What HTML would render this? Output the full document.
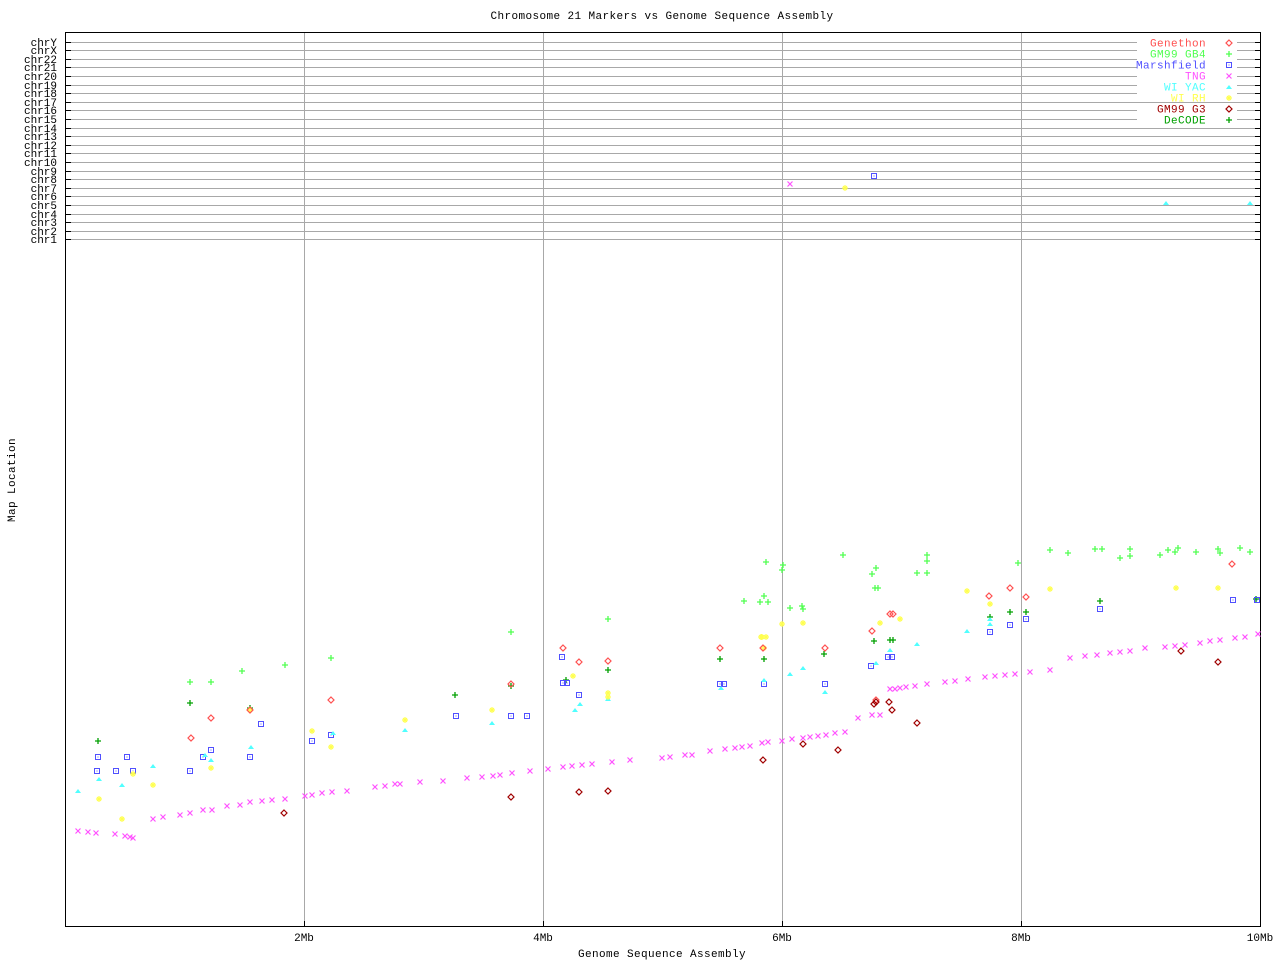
<!DOCTYPE html>
<html><head><meta charset="utf-8"><style>
html,body{margin:0;padding:0;background:#fff;width:1280px;height:960px;overflow:hidden}
text{font-family:"Liberation Mono","DejaVu Sans Mono",monospace;font-size:11px}
</style></head><body>
<svg id="s" width="1280" height="960" xmlns="http://www.w3.org/2000/svg">
<rect width="1280" height="960" fill="#fff"/>
<g id="grid"></g>
<rect x="65.5" y="32.5" width="1195" height="894" fill="none" stroke="#000" stroke-width="1"/>
<text x="662" y="19" text-anchor="middle" letter-spacing="0.4">Chromosome 21 Markers vs Genome Sequence Assembly</text>
<text x="662" y="957" text-anchor="middle" letter-spacing="0.4">Genome Sequence Assembly</text>
<text transform="translate(15,480) rotate(-90)" text-anchor="middle" letter-spacing="0.4">Map Location</text>
<g id="legend"></g>
<g id="pts"></g>
</svg>
<script>
var NS="http://www.w3.org/2000/svg",g=document.getElementById('grid'),P=document.getElementById('pts'),L=document.getElementById('legend');
function el(p,t,a,txt){var e=document.createElementNS(NS,t);for(var k in a)e.setAttribute(k,a[k]);if(txt)e.textContent=txt;p.appendChild(e);return e;}
var chr=["chrY","chrX","chr22","chr21","chr20","chr19","chr18","chr17","chr16","chr15","chr14","chr13","chr12","chr11","chr10","chr9","chr8","chr7","chr6","chr5","chr4","chr3","chr2","chr1"];
chr.forEach(function(c,i){var y=Math.round(41.5+i*8.6)+0.5;
el(g,'line',{x1:66,x2:1260,y1:y,y2:y,stroke:'#a8a8a8'});
el(g,'line',{x1:66,x2:71,y1:y,y2:y,stroke:'#000'});
el(g,'line',{x1:1255,x2:1260,y1:y,y2:y,stroke:'#000'});
el(g,'text',{x:57,y:y+3.5,'text-anchor':'end'},c);});
[["2Mb",304],["4Mb",543],["6Mb",782],["8Mb",1021],["10Mb",1260]].forEach(function(t){
var x=t[1]+0.5;if(t[1]<1260)el(g,'line',{x1:x,x2:x,y1:33,y2:926,stroke:'#a8a8a8'});
el(g,'line',{x1:x,x2:x,y1:921,y2:926,stroke:'#000'});
el(g,'text',{x:t[1],y:941,'text-anchor':'middle'},t[0]);});
function mk(type,x,y,c){
if(type=='d')el(P,'path',{d:'M'+x+' '+(y-3)+'L'+(x+3)+' '+y+'L'+x+' '+(y+3)+'L'+(x-3)+' '+y+'Z',fill:'none',stroke:c,'stroke-width':1.2});
else if(type=='+')el(P,'path',{d:'M'+(x-3)+' '+y+'H'+(x+3)+'M'+x+' '+(y-3)+'V'+(y+3),stroke:c,'stroke-width':1.3});
else if(type=='s'){el(P,'rect',{x:x-2.5,y:y-2.5,width:5,height:5,fill:'none',stroke:c,'stroke-width':1});el(P,'rect',{x:x-0.5,y:y-0.5,width:1,height:1,fill:c});}
else if(type=='x')el(P,'path',{d:'M'+(x-2.5)+' '+(y-2.5)+'L'+(x+2.5)+' '+(y+2.5)+'M'+(x+2.5)+' '+(y-2.5)+'L'+(x-2.5)+' '+(y+2.5),stroke:c,'stroke-width':1.2});
else if(type=='t')el(P,'path',{d:'M'+(x-3)+' '+(y+2)+'L'+x+' '+(y-2)+'L'+(x+3)+' '+(y+2)+'Z',fill:c});
else if(type=='*'){el(P,'path',{d:'M'+(x-3)+' '+y+'H'+(x+3)+'M'+x+' '+(y-3)+'V'+(y+3)+'M'+(x-2)+' '+(y-2)+'L'+(x+2)+' '+(y+2)+'M'+(x+2)+' '+(y-2)+'L'+(x-2)+' '+(y+2),stroke:c,'stroke-width':1.2});}
}
var S={
gen:['d','#ff5050'],gb4:['+','#50ff50'],mar:['s','#5050ff'],tng:['x','#ff50ff'],yac:['t','#50ffff'],rh:['*','#ffff50'],g3:['d','#a00000'],dec:['+','#00a000']};
var D={
tng:[[78,831],[88,832],[96,833],[115,834],[125,836],[130,837],[133,838],[153,819],[163,817],[180,815],[190,813],[203,810],[212,810],[227,806],[240,805],[250,802],[262,801],[272,800],[285,799],[305,796],[312,795],[322,793],[332,792],[347,791],[375,787],[385,786],[395,784],[400,784],[420,782],[443,781],[467,778],[482,777],[493,776],[500,775],[512,773],[530,771],[548,769],[563,767],[572,766],[582,765],[592,764],[612,762],[630,760],[662,758],[670,757],[685,755],[692,755],[710,751],[725,749],[735,748],[742,747],[750,746],[762,743],[768,742],[782,741],[792,739],[803,738],[810,737],[818,736],[826,735],[835,733],[845,732],[858,718],[872,715],[880,715],[890,689],[895,689],[900,688],[906,687],[915,686],[927,684],[945,682],[955,681],[968,679],[985,677],[995,676],[1005,675],[1015,674],[1030,672],[1050,670],[1070,658],[1085,656],[1097,655],[1110,653],[1120,652],[1130,651],[1145,648],[1165,647],[1175,646],[1185,645],[1200,643],[1210,641],[1220,640],[1235,638],[1245,637],[1258,634],[790,184]],
gb4:[[190,682],[211,682],[242,671],[285,665],[331,658],[511,632],[608,619],[744,601],[764,596],[766,562],[782,570],[783,565],[790,608],[802,606],[803,609],[843,555],[872,574],[876,568],[875,588],[878,588],[917,573],[927,573],[927,561],[927,555],[1018,563],[1050,550],[1068,553],[1095,549],[1102,549],[1120,558],[1130,549],[1130,556],[1160,555],[1168,550],[1175,552],[1178,548],[1196,552],[1218,549],[1220,553],[1240,548],[1250,552],[760,602],[768,602]],
dec:[[98,741],[250,708],[455,695],[511,686],[566,680],[608,670],[824,654],[874,641],[890,640],[893,640],[990,617],[1010,612],[1026,612],[1256,599],[190,703],[720,659],[764,659],[1100,601]],
mar:[[98,757],[116,771],[127,757],[133,771],[97,771],[190,771],[203,757],[211,750],[250,757],[261,724],[312,741],[331,735],[456,716],[511,716],[527,716],[562,657],[563,683],[567,683],[579,695],[720,684],[724,684],[764,684],[825,684],[871,666],[874,176],[888,657],[892,657],[990,632],[1010,625],[1026,619],[1100,609],[1233,600],[1257,600]],
yac:[[78,791],[99,779],[122,785],[153,766],[205,755],[211,760],[251,747],[333,733],[405,730],[492,723],[575,710],[580,704],[608,699],[721,688],[764,680],[790,674],[803,668],[825,692],[876,663],[890,650],[917,644],[967,631],[990,624],[990,619],[1166,203],[1250,203]],
rh:[[99,799],[122,819],[133,774],[153,785],[211,768],[250,710],[312,731],[331,747],[405,720],[492,710],[573,676],[608,693],[608,697],[762,637],[766,637],[764,648],[782,624],[803,623],[845,188],[880,623],[900,619],[967,591],[990,604],[1050,589],[1176,588],[1218,588],[761,637]],
gen:[[250,710],[191,738],[511,684],[563,648],[872,631],[876,700],[890,614],[893,614],[989,596],[1232,564],[211,718],[331,700],[579,662],[608,661],[720,648],[825,648],[1010,588],[1026,597],[763,648]],
g3:[[284,813],[511,797],[579,792],[608,791],[763,760],[803,744],[838,750],[874,704],[876,702],[892,710],[889,702],[917,723],[1218,662],[1181,651]]};
for(var k in D)D[k].forEach(function(p){mk(S[k][0],p[0],p[1],S[k][1]);});
var leg=[["Genethon","gen"],["GM99 GB4","gb4"],["Marshfield","mar"],["TNG","tng"],["WI YAC","yac"],["WI RH","rh"],["GM99 G3","g3"],["DeCODE","dec"]];
leg.forEach(function(l,i){var y=43+i*11;el(L,'rect',{x:1137,y:y-6,width:100,height:10,fill:'#fff'});
el(L,'text',{x:1206,y:y+3.5,'text-anchor':'end',fill:S[l[1]][1],'letter-spacing':'0.4'},l[0]);mk(S[l[1]][0],1229,y,S[l[1]][1]);});
</script>
</body></html>
